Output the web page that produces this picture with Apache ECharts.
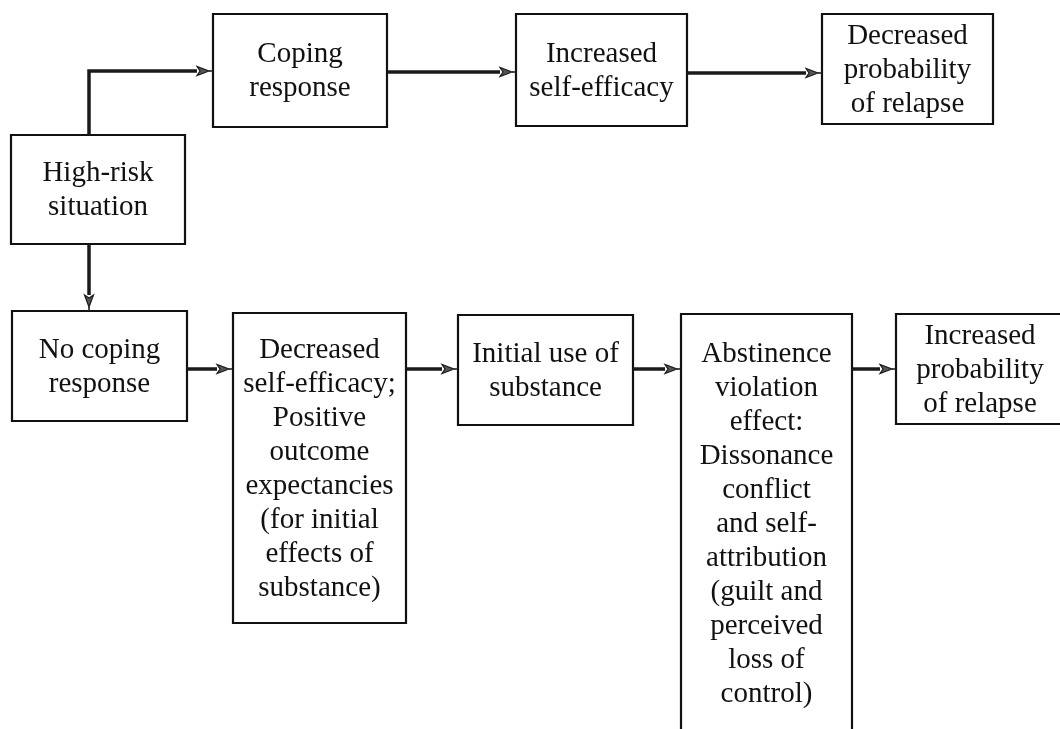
<!DOCTYPE html>
<html>
<head>
<meta charset="utf-8">
<script src="https://cdn.jsdelivr.net/npm/echarts@6/dist/echarts.min.js"></script>
<style>
html,body{margin:0;padding:0;background:#fff;}
#chart{width:1060px;height:729px;}
</style>
</head>
<body>
<div id="chart"></div>
<script>
// ---- content ----
const nodeLabels = [
  'High-risk\nsituation',
  'Coping\nresponse',
  'Increased\nself-efficacy',
  'Decreased\nprobability\nof relapse',
  'No coping\nresponse',
  'Decreased\nself-efficacy;\nPositive\noutcome\nexpectancies\n(for initial\neffects of\nsubstance)',
  'Initial use of\nsubstance',
  'Abstinence\nviolation\neffect:\nDissonance\nconflict\nand self-\nattribution\n(guilt and\nperceived\nloss of\ncontrol)',
  'Increased\nprobability\nof relapse'
];
// flow links (source index -> target index)
const links = [[0,1],[1,2],[2,3],[0,4],[4,5],[5,6],[6,7],[7,8]];

// ---- layout (diagram units on hidden axes 0..1060 x 0..729) ----
const boxLayout = [
  [11,135,185,244],
  [213,14,387,127],
  [516,14,687,126],
  [822,14,993,124],
  [12,311,187,421],
  [233,313,406,623],
  [458,315,633,425],
  [681,314,852,732],
  [896,314,1064,424]
];
const linkRoutes = [
  [[89,135],[89,71],[213,71]],
  [[387,72],[516,72]],
  [[687,73],[822,73]],
  [[89,244],[89,311]],
  [[187,369],[233,369]],
  [[406,369],[458,369]],
  [[633,369],[681,369]],
  [[852,369],[896,369]]
];

const chart = echarts.init(document.getElementById('chart'));
const FONT = '"Liberation Serif", "DejaVu Serif", serif';

const boxData = boxLayout.map((b, i) => ({ value: b, name: nodeLabels[i] }));
const linkData = links.map((l, i) => ({ value: [i, l[0], l[1]] }));

function arrowRender(params, api) {
  const route = linkRoutes[params.dataIndex].map(p => api.coord(p));
  const n = route.length;
  const end = route[n - 1], prev = route[n - 2];
  const dx = end[0] - prev[0], dy = end[1] - prev[1];
  const len = Math.sqrt(dx * dx + dy * dy);
  const ux = dx / len, uy = dy / len;
  const gap = 4, headLen = 12, headW = 4.5;
  const tip = [end[0] - ux * gap, end[1] - uy * gap];
  const base = [tip[0] - ux * headLen, tip[1] - uy * headLen];
  const px = -uy, py = ux;
  const shaft = route.slice(0, n - 1).concat([base]);
  return {
    type: 'group',
    children: [
      { type: 'polyline', shape: { points: shaft },
        style: { stroke: '#1a1a1a', lineWidth: 3.5, fill: null, lineJoin: 'miter' } },
      { type: 'line', shape: { x1: tip[0], y1: tip[1], x2: end[0], y2: end[1] },
        style: { stroke: '#1a1a1a', lineWidth: 1.5 } },
      { type: 'polygon', shape: { points: [
          tip,
          [base[0] + px * headW, base[1] + py * headW],
          [base[0] + ux * 3, base[1] + uy * 3],
          [base[0] - px * headW, base[1] - py * headW]
        ] },
        style: { fill: '#555555', stroke: '#1a1a1a', lineWidth: 1.2 } }
    ]
  };
}

chart.setOption({
  backgroundColor: '#ffffff',
  animation: false,
  grid: { left: 0, right: 0, top: 0, bottom: 0 },
  xAxis: { type: 'value', min: 0, max: 1060, show: false },
  yAxis: { type: 'value', min: 0, max: 729, inverse: true, show: false },
  series: [
    {
      type: 'custom',
      coordinateSystem: 'cartesian2d',
      clip: false,
      data: boxData,
      renderItem: function (params, api) {
        const p0 = api.coord([api.value(0), api.value(1)]);
        const p1 = api.coord([api.value(2), api.value(3)]);
        const label = nodeLabels[params.dataIndex];
        return {
          type: 'group',
          children: [
            {
              type: 'rect',
              shape: { x: p0[0], y: p0[1], width: p1[0] - p0[0], height: p1[1] - p0[1] },
              style: { fill: '#ffffff', stroke: '#111111', lineWidth: 2.2 }
            },
            {
              type: 'text',
              style: {
                text: label,
                x: (p0[0] + p1[0]) / 2,
                y: (p0[1] + p1[1]) / 2 + 1,
                align: 'center',
                verticalAlign: 'middle',
                fontFamily: FONT,
                fontSize: 29,
                lineHeight: 34,
                fill: '#111111'
              }
            }
          ]
        };
      }
    },
    {
      type: 'custom',
      coordinateSystem: 'cartesian2d',
      clip: false,
      data: linkData,
      renderItem: arrowRender,
      z: 3
    }
  ]
});
</script>
</body>
</html>
